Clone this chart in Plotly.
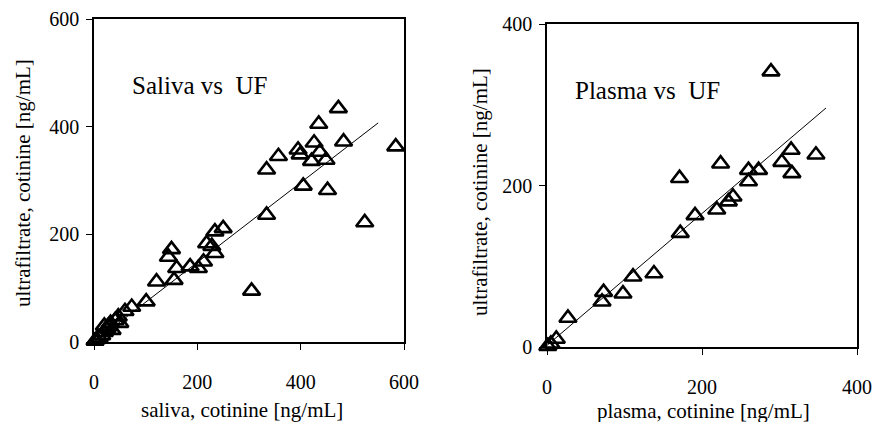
import plotly.graph_objects as go

# ---- data: left panel (saliva vs ultrafiltrate) ----
saliva_x = [2, 5, 10, 15, 20, 25, 28, 32, 20, 35, 41, 47, 50, 60, 73, 101, 121, 155, 144, 150,
            160, 186, 202, 212, 218, 228, 234, 234, 250, 305, 334, 334, 357, 395, 399, 405,
            421, 426, 435, 437, 449, 452, 473, 483, 524, 584]
saliva_uf = [2, 5, 8, 12, 18, 25, 30, 35, 30, 22, 40, 47, 35, 57, 65, 75, 112, 115, 158, 172,
             137, 140, 137, 149, 183, 178, 165, 205, 211, 95, 236, 320, 345, 357, 348, 290,
             336, 370, 405, 353, 338, 282, 434, 372, 222, 363]
saliva_fit_x = [0, 550]
saliva_fit_y = [0, 407]

# ---- data: right panel (plasma vs ultrafiltrate) ----
plasma_x = [1, 5, 12, 27, 71, 73, 98, 111, 138, 171, 172, 191, 219, 224, 234, 240, 260, 260,
            273, 289, 303, 315, 316, 347]
plasma_uf = [1, 4, 10, 36, 56, 68, 66, 87, 91, 209, 141, 163, 170, 227, 180, 186, 205, 219,
             219, 341, 229, 244, 215, 238]
plasma_fit_x = [0, 360]
plasma_fit_y = [2, 296]

left_ticks = [0, 200, 400, 600]
right_ticks = [0, 200, 400]

FONT = "Times New Roman, Liberation Serif, DejaVu Serif, serif"
W, H = 878, 422

fig = go.Figure()

marker = dict(symbol="triangle-up-open", size=15, color="black", line=dict(color="black", width=2.6))

fig.add_trace(go.Scatter(x=saliva_fit_x, y=saliva_fit_y, mode="lines",
                         line=dict(color="black", width=1), xaxis="x", yaxis="y",
                         showlegend=False, hoverinfo="skip"))
fig.add_trace(go.Scatter(x=saliva_x, y=saliva_uf, mode="markers", marker=marker,
                         xaxis="x", yaxis="y", showlegend=False, cliponaxis=False))
fig.add_trace(go.Scatter(x=plasma_fit_x, y=plasma_fit_y, mode="lines",
                         line=dict(color="black", width=1), xaxis="x2", yaxis="y2",
                         showlegend=False, hoverinfo="skip"))
fig.add_trace(go.Scatter(x=plasma_x, y=plasma_uf, mode="markers", marker=marker,
                         xaxis="x2", yaxis="y2", showlegend=False, cliponaxis=False))

def ax(domain, rng, ticks, anchor, standoff):
    return dict(domain=domain, range=rng, tickvals=ticks, ticktext=[str(t) for t in ticks],
                showgrid=False, zeroline=False, showline=True, mirror=True,
                linecolor="black", linewidth=1.5, ticks="outside", ticklen=6, tickwidth=1.2,
                tickcolor="black", anchor=anchor, automargin=False,
                tickfont=dict(family=FONT, size=20, color="black"),
                ticklabelstandoff=standoff)

def px_x(p):
    return p / W

def px_y(p):
    return 1 - p / H

fig.update_layout(
    width=W, height=H,
    margin=dict(l=0, r=0, t=0, b=0),
    paper_bgcolor="white", plot_bgcolor="white",
    font=dict(family=FONT, color="black"),
    xaxis=ax([px_x(94), px_x(404)], [0, 600], left_ticks, "y", 15),
    yaxis=ax([px_y(342), px_y(19)], [0, 600], left_ticks, "x", 3),
    xaxis2=ax([px_x(547), px_x(857)], [0, 400], right_ticks, "y2", 15),
    yaxis2=ax([px_y(347), px_y(24)], [0, 400], right_ticks, "x2", 3),
)

def note(text, x, y, size, angle=0, xanchor="center"):
    fig.add_annotation(text=text, x=px_x(x), y=px_y(y), xref="paper", yref="paper",
                       showarrow=False, textangle=angle, xanchor=xanchor, yanchor="middle",
                       font=dict(family=FONT, size=size, color="black"))

note("Saliva vs  UF", 130, 85, 25, xanchor="left")
note("Plasma vs  UF", 573, 91, 25, xanchor="left")
note("saliva, cotinine [ng/mL]", 242, 410, 21)
note("plasma, cotinine [ng/mL]", 703, 411, 21)
note("ultrafiltrate, cotinine [ng/mL]", 23, 183, 21, angle=-90)
note("ultrafiltrate, cotinine [ng/mL]", 480, 192, 21, angle=-90)

fig.write_html("out.html", config={"displayModeBar": False},
               post_script="document.body.style.margin='0';document.body.style.overflow='hidden';")
